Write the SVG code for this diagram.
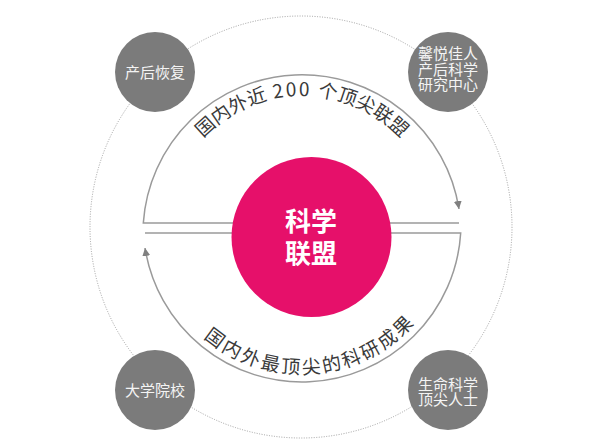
<svg xmlns="http://www.w3.org/2000/svg" width="600" height="446" viewBox="0 0 600 446">
<style>
.conn{fill:none;stroke:#9a9a9a;stroke-width:1.5}
.dot{fill:none;stroke:#a0a0a0;stroke-width:1;stroke-dasharray:1 1.5}
.gray{fill:#7b7b7b}
.gt{font-family:"Noto Sans CJK SC","Noto Sans",sans-serif;font-size:15px;fill:#f4f4f4;text-anchor:middle}
.ct{font-family:"Noto Sans CJK SC","Noto Sans",sans-serif;font-size:26px;font-weight:bold;fill:#ffffff;text-anchor:middle}
.arc{font-family:"Noto Sans CJK SC","Noto Sans",sans-serif;font-size:19px;fill:#3a3a3a}
</style>
<defs>
<marker id="arr" markerWidth="9" markerHeight="8" refX="8" refY="4" orient="auto" markerUnits="userSpaceOnUse">
<path d="M0,0 L8,4 L0,8 Z" fill="#808080"/>
</marker>
<path id="topPath" d="M165,233 A137,137 0 0 1 439,233"/>
<path id="botPath" d="M151,223 A151,151 0 0 0 453,223"/>
</defs>
<rect width="600" height="446" fill="#ffffff"/>
<circle class="dot" cx="301" cy="227" r="211"/>
<g id="connectors">
<path class="conn" d="M240,223 H143.3 A159,159 0 0 1 459,209" marker-end="url(#arr)"/>
<path class="conn" d="M384,223 H459"/>
<path class="conn" d="M384,233 H460.7 A159,159 0 0 1 145,248" marker-end="url(#arr)"/>
<path class="conn" d="M145,233 H240"/>
</g>
<g id="label-top">
<text class="arc"><textPath href="#topPath" startOffset="50%" text-anchor="middle">国内外近<tspan letter-spacing="2"> 200 </tspan>个顶尖联盟</textPath></text>
</g>
<g id="label-bottom">
<text class="arc" letter-spacing="2.5"><textPath href="#botPath" startOffset="248" text-anchor="middle">国内外最顶尖的科研成果</textPath></text>
</g>
<g id="center">
<circle cx="311.5" cy="237" r="80" fill="#e6106a"/>
<text class="ct" x="311" y="231">科学<tspan x="311" y="263">联盟</tspan></text>
</g>
<g id="node-postpartum">
<circle class="gray" cx="155" cy="72" r="40"/>
<text class="gt" x="155" y="78">产后恢复</text>
</g>
<g id="node-center-research">
<circle class="gray" cx="448" cy="72" r="40"/>
<text class="gt" x="448" y="59">馨悦佳人<tspan x="448" y="74.5">产后科学</tspan><tspan x="448" y="90">研究中心</tspan></text>
</g>
<g id="node-university">
<circle class="gray" cx="155" cy="390" r="40"/>
<text class="gt" x="155" y="395.5">大学院校</text>
</g>
<g id="node-experts">
<circle class="gray" cx="448" cy="390" r="40"/>
<text class="gt" x="448" y="389.5">生命科学<tspan x="448" y="405">顶尖人士</tspan></text>
</g>
</svg>
